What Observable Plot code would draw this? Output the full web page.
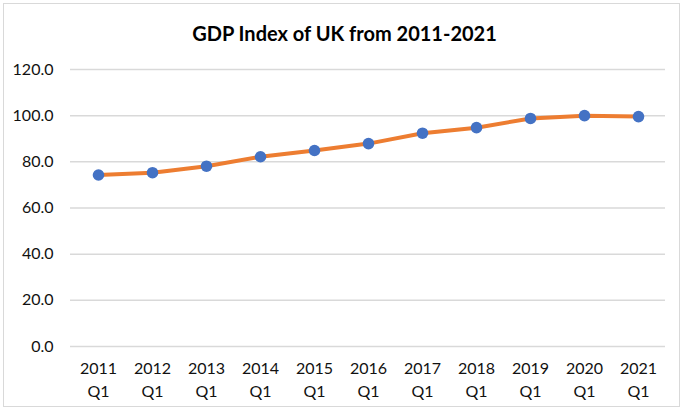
<!DOCTYPE html>
<html>
<head>
<meta charset="utf-8">
<script src="https://cdn.jsdelivr.net/npm/d3@7"></script>
<script src="https://cdn.jsdelivr.net/npm/@observablehq/plot@0.6"></script>
<style>
  html, body { margin: 0; padding: 0; background: #fff; }
  #wrap { position: relative; width: 689px; height: 415px; font-family: Lato, "Open Sans", sans-serif; }
  #frame { position: absolute; left: 3px; top: 3px; width: 677px; height: 404px; border: 1.5px solid #d9d9d9; box-sizing: border-box; pointer-events: none; }
  #title { position: absolute; left: 0; top: 21px; width: 689px; text-align: center; font-weight: 700; font-size: 20px; color: #000; line-height: 24px; }
  #chart { position: absolute; left: 0; top: 58px; }
</style>
</head>
<body>
<div id="wrap">
  <div id="frame"></div>
  <div id="title">GDP Index of UK from 2011-2021</div>
  <div id="chart"></div>
</div>
<script>
const years = ["2011", "2012", "2013", "2014", "2015", "2016", "2017", "2018", "2019", "2020", "2021"];
const quarter = "Q1";
const gdpIndex = [74.3, 75.3, 78.1, 82.2, 84.9, 87.9, 92.4, 94.8, 98.8, 100.0, 99.6];
const yTicks = [0, 20, 40, 60, 80, 100, 120];

const data = years.map((y, i) => ({ year: y, value: gdpIndex[i] }));

const chart = Plot.plot({
  width: 689,
  height: 347,
  marginTop: 11,
  marginBottom: 59,
  marginLeft: 70,
  marginRight: 24,
  style: { fontFamily: "Lato, 'Open Sans', sans-serif", fontSize: "16px", color: "#111", background: "transparent" },
  x: { type: "point", domain: years, padding: 0.5 },
  y: { domain: [0, 120] },
  marks: [
    Plot.gridY(yTicks, { stroke: "#d9d9d9", strokeOpacity: 1, strokeWidth: 1.5 }),
    Plot.axisY(yTicks, { tickSize: 0, tickPadding: 17, tickFormat: d => d.toFixed(1), fontSize: 16, label: null }),
    Plot.axisX(years, { tickSize: 0, tickPadding: 12, tickFormat: d => d + "\n" + quarter, fontSize: 16, lineHeight: 1.4, label: null }),
    Plot.line(data, { x: "year", y: "value", stroke: "#ED7D31", strokeWidth: 4, curve: "linear" }),
    Plot.dot(data, { x: "year", y: "value", fill: "#4472C4", r: 5.8, stroke: "none" })
  ]
});
document.getElementById("chart").appendChild(chart);
</script>
</body>
</html>
